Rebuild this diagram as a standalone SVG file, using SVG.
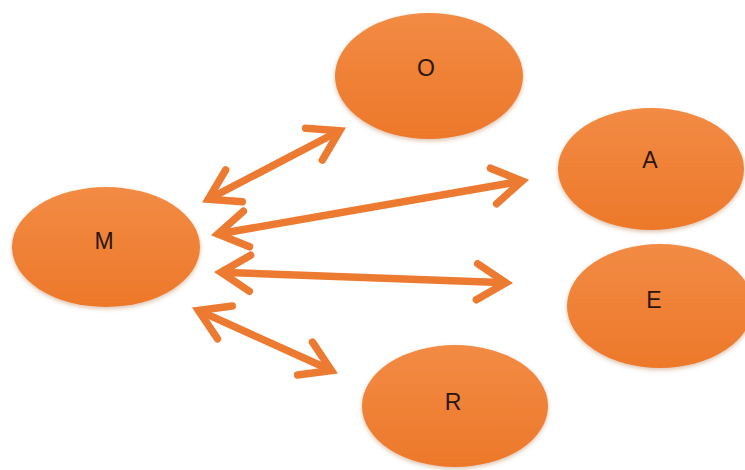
<svg xmlns="http://www.w3.org/2000/svg" width="745" height="470" viewBox="0 0 745 470">
  <defs>
    <linearGradient id="nodeFill" x1="0" y1="0" x2="0" y2="1">
      <stop offset="0" stop-color="#F28B44"/>
      <stop offset="1" stop-color="#ED782A"/>
    </linearGradient>
    <filter id="soft" x="-10%" y="-10%" width="120%" height="125%">
      <feGaussianBlur in="SourceAlpha" stdDeviation="2"/>
      <feOffset dy="2" result="b"/>
      <feFlood flood-color="#A0501A" flood-opacity="0.35"/>
      <feComposite in2="b" operator="in"/>
      <feMerge><feMergeNode/><feMergeNode in="SourceGraphic"/></feMerge>
    </filter>
    <marker id="chev" viewBox="-40 -25 60 50" refX="-6" refY="0" markerWidth="60" markerHeight="50" markerUnits="userSpaceOnUse" orient="auto-start-reverse" overflow="visible">
      <path d="M -29 -18 L 0 0 L -29 18" fill="none" stroke="#EC7A30" stroke-width="7.5" stroke-linecap="round" stroke-linejoin="miter" stroke-miterlimit="10"/>
    </marker>
  </defs>
  <style>
    .node ellipse { fill: url(#nodeFill); filter: url(#soft); }
    .node text { font-family: "Liberation Sans", Arial, sans-serif; font-size: 23px; fill: #2A160C; text-anchor: middle; }
    .conn path { fill: none; stroke: #EC7A30; stroke-width: 7.5; marker-start: url(#chev); marker-end: url(#chev); }
  </style>
  <rect width="745" height="470" fill="#FFFFFF"/>
  <g id="connectors" class="conn">
    <path d="M 213.6 196.5 L 334.4 133.5"/>
    <path d="M 223.8 233 L 516.2 182"/>
    <path d="M 227 272.4 L 500 282.6"/>
    <path d="M 203.9 312.9 L 326 368"/>
  </g>
  <g id="node-M" class="node">
    <ellipse cx="106" cy="247" rx="94" ry="60"/>
    <text x="104" y="249">M</text>
  </g>
  <g id="node-O" class="node">
    <ellipse cx="429" cy="76" rx="94" ry="63"/>
    <text x="426" y="76">O</text>
  </g>
  <g id="node-A" class="node">
    <ellipse cx="651" cy="169" rx="93" ry="61"/>
    <text x="650" y="168">A</text>
  </g>
  <g id="node-E" class="node">
    <ellipse cx="660" cy="306" rx="93" ry="62"/>
    <text x="654" y="308">E</text>
  </g>
  <g id="node-R" class="node">
    <ellipse cx="455" cy="406" rx="93" ry="61"/>
    <text x="453" y="410">R</text>
  </g>
</svg>
